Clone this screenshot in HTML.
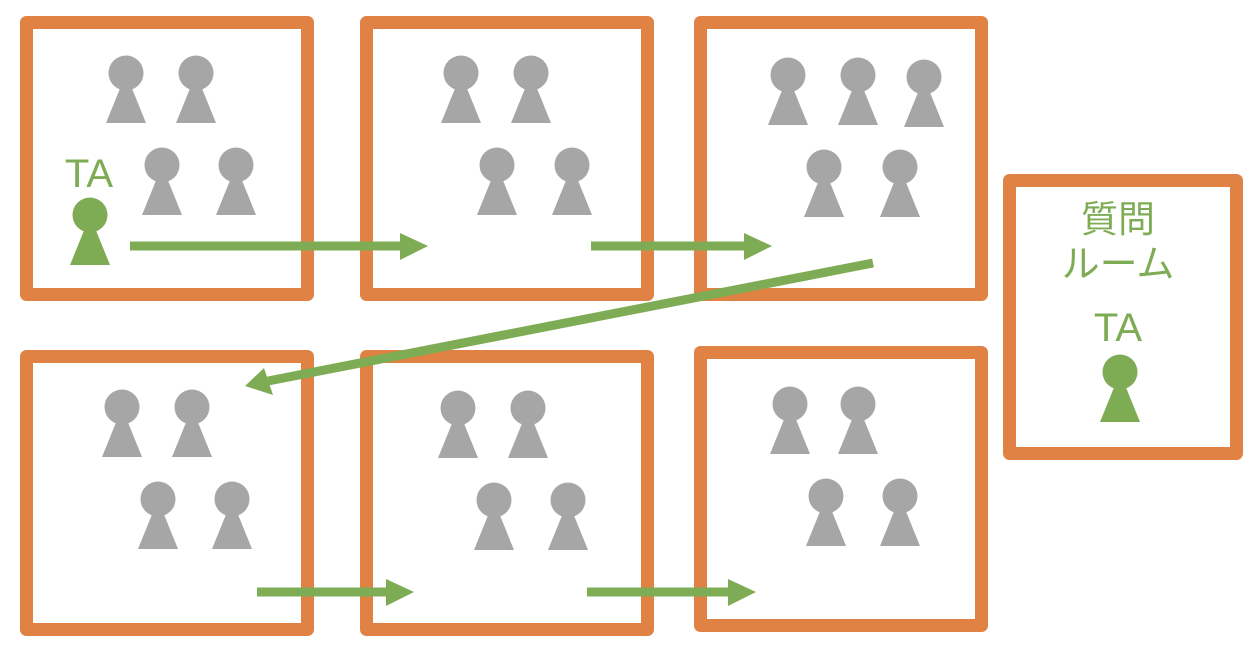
<!DOCTYPE html>
<html><head><meta charset="utf-8"><style>
html,body{margin:0;padding:0;background:#fff;width:1252px;height:645px;overflow:hidden}
</style></head><body>
<svg width="1252" height="645" viewBox="0 0 1252 645" xmlns="http://www.w3.org/2000/svg">
<defs>
<g id="p"><circle cx="0" cy="0" r="17.5"/><polygon points="-5,13 5,13 20,50 -20,50"/></g>
</defs>
<g fill="none" stroke="#E08244" stroke-width="13" stroke-linejoin="round">
<rect x="26.5" y="22.5" width="281" height="272"/>
<rect x="366.5" y="22.5" width="281" height="272"/>
<rect x="700.5" y="22.5" width="281" height="272"/>
<rect x="26.5" y="356.5" width="281" height="273"/>
<rect x="366.5" y="356.5" width="281" height="273"/>
<rect x="700.5" y="352.5" width="281" height="273"/>
<rect x="1009.5" y="180.5" width="227" height="273"/>
</g>
<g fill="#A6A6A6">
<use href="#p" x="126" y="73"/><use href="#p" x="196" y="73"/><use href="#p" x="162" y="165"/><use href="#p" x="236" y="165"/>
<use href="#p" x="461" y="73"/><use href="#p" x="531" y="73"/><use href="#p" x="497" y="165"/><use href="#p" x="572" y="165"/>
<use href="#p" x="788" y="75"/><use href="#p" x="858" y="75"/><use href="#p" x="924" y="77"/><use href="#p" x="824" y="167"/><use href="#p" x="900" y="167"/>
<use href="#p" x="122" y="407"/><use href="#p" x="192" y="407"/><use href="#p" x="158" y="499"/><use href="#p" x="232" y="499"/>
<use href="#p" x="458" y="408"/><use href="#p" x="528" y="408"/><use href="#p" x="494" y="500"/><use href="#p" x="568" y="500"/>
<use href="#p" x="790" y="404"/><use href="#p" x="858" y="404"/><use href="#p" x="826" y="496"/><use href="#p" x="900" y="496"/>
</g>
<g fill="#7EAC55">
<use href="#p" x="90" y="215"/>
<use href="#p" x="1120" y="372"/>
</g>
<g stroke="#7EAC55" stroke-width="9" fill="none">
<line x1="130" y1="246" x2="404" y2="246"/>
<line x1="591" y1="246" x2="748" y2="246"/>
<line x1="873" y1="263" x2="268" y2="381"/>
<line x1="257" y1="592" x2="390" y2="592"/>
<line x1="587" y1="592" x2="732" y2="592"/>
</g>
<g fill="#7EAC55">
<polygon points="400,233 428,246 400,260"/>
<polygon points="744,233 772,246 744,260"/>
<polygon points="264,368 245,386 273,395"/>
<polygon points="386,579 414,592 386,606"/>
<polygon points="728,579 756,592 728,606"/>
</g>
<g fill="#7EAC55" font-family="Liberation Sans, Noto Sans CJK JP, sans-serif" text-anchor="middle">
<text x="89" y="187" font-size="40">TA</text>
<text x="1118" y="341" font-size="40">TA</text>
<text x="1118" y="232" font-size="37">質問</text>
<text x="1118" y="277" font-size="38">ルーム</text>
</g>
</svg>
</body></html>
